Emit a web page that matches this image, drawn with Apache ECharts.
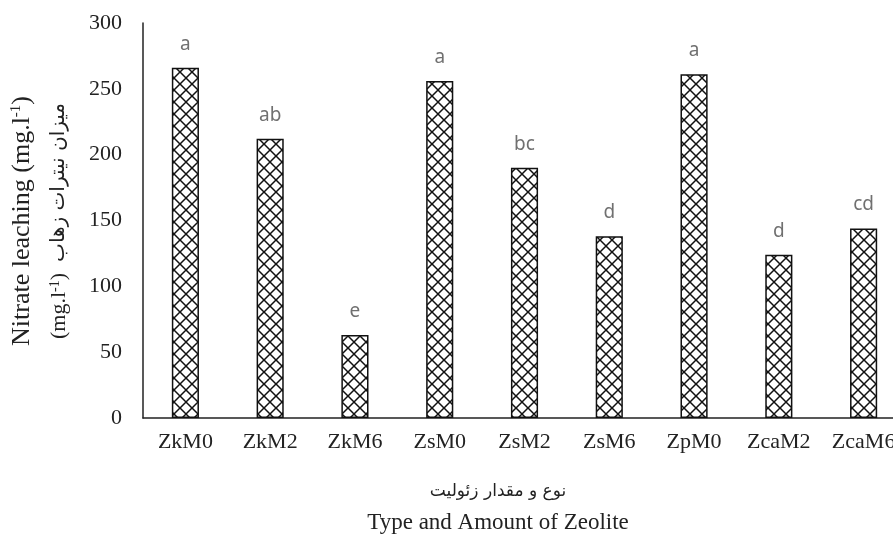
<!DOCTYPE html>
<html>
<head>
<meta charset="utf-8">
<script src="https://cdn.jsdelivr.net/npm/echarts@6/dist/echarts.min.js"></script>
<style>
html, body { margin: 0; padding: 0; background: #fff; }
#chart { width: 893px; height: 536px; }
</style>
</head>
<body>
<div id="chart"></div>
<script>
var categories = ['ZkM0', 'ZkM2', 'ZkM6', 'ZsM0', 'ZsM2', 'ZsM6', 'ZpM0', 'ZcaM2', 'ZcaM6'];
var nitrate = [266, 212, 63, 256, 190, 138, 261, 124, 144];
var letters = ['a', 'ab', 'e', 'a', 'bc', 'd', 'a', 'd', 'cd'];
var yTicks = [0, 50, 100, 150, 200, 250, 300];

var serif = "'Liberation Serif', 'Times New Roman', 'DejaVu Sans', serif";

// cross hatch tile for the bars
function hatchTile() {
    var c = document.createElement('canvas');
    c.width = 12;
    c.height = 12;
    var ctx = c.getContext('2d');
    ctx.fillStyle = '#fff';
    ctx.fillRect(0, 0, 12, 12);
    ctx.strokeStyle = '#111';
    ctx.lineWidth = 1.5;
    ctx.beginPath();
    ctx.moveTo(0, 0); ctx.lineTo(12, 12);
    ctx.moveTo(12, 0); ctx.lineTo(0, 12);
    ctx.stroke();
    return c;
}

var chart = echarts.init(document.getElementById('chart'));

var option = {
    animation: false,
    backgroundColor: '#fff',
    grid: {
        left: 143,
        top: 23,
        bottom: 118,
        width: 763,
        outerBoundsMode: 'none'
    },
    xAxis: {
        type: 'category',
        data: categories,
        axisLine: { lineStyle: { color: '#222', width: 1.5 } },
        axisTick: { show: false },
        axisLabel: { color: '#222', fontFamily: serif, fontSize: 22, margin: 13 }
    },
    yAxis: {
        type: 'value',
        min: yTicks[0],
        max: yTicks[yTicks.length - 1],
        interval: 50,
        axisLine: { show: true, lineStyle: { color: '#222', width: 1.5 } },
        axisTick: { show: false },
        splitLine: { show: false },
        axisLabel: { color: '#222', fontFamily: serif, fontSize: 22, margin: 21 }
    },
    series: [{
        type: 'bar',
        data: nitrate,
        barWidth: '32%',
        itemStyle: {
            color: { image: hatchTile(), repeat: 'repeat' },
            borderColor: '#111',
            borderWidth: 1.5
        },
        label: {
            show: true,
            position: 'top',
            distance: 14,
            color: '#707070',
            fontFamily: "'Noto Sans', sans-serif",
            fontSize: 19,
            formatter: function (p) { return letters[p.dataIndex]; }
        }
    }],
    graphic: [{
        type: 'text',
        x: 22,
        y: 221,
        rotation: Math.PI / 2,
        style: {
            text: 'Nitrate leaching (mg.l{sup|-1})',
            fontFamily: serif,
            fontSize: 26,
            fill: '#222',
            align: 'center',
            verticalAlign: 'middle',
            rich: { sup: { fontSize: 15, verticalAlign: 'top', lineHeight: 26, fill: '#222', fontFamily: serif } }
        }
    }, {
        type: 'text',
        x: 59,
        y: 221,
        rotation: Math.PI / 2,
        style: {
            text: '(mg.l{sup|-1})  {fa|میزان نیترات زهاب}',
            fontFamily: serif,
            fontSize: 22,
            fill: '#222',
            align: 'center',
            verticalAlign: 'middle',
            rich: {
                sup: { fontSize: 14, verticalAlign: 'top', lineHeight: 22, fill: '#222', fontFamily: serif },
                fa: { fontSize: 20, fill: '#222', fontFamily: "'DejaVu Sans', sans-serif" }
            }
        }
    }, {
        type: 'text',
        x: 498,
        y: 492,
        style: {
            text: 'نوع و مقدار زئولیت',
            fontFamily: "'DejaVu Sans', sans-serif",
            fontSize: 17,
            fill: '#222',
            align: 'center',
            verticalAlign: 'middle'
        }
    }, {
        type: 'text',
        x: 498,
        y: 523,
        style: {
            text: 'Type and Amount of Zeolite',
            fontFamily: serif,
            fontSize: 23,
            fill: '#222',
            align: 'center',
            verticalAlign: 'middle'
        }
    }]
};

chart.setOption(option);
</script>
</body>
</html>
